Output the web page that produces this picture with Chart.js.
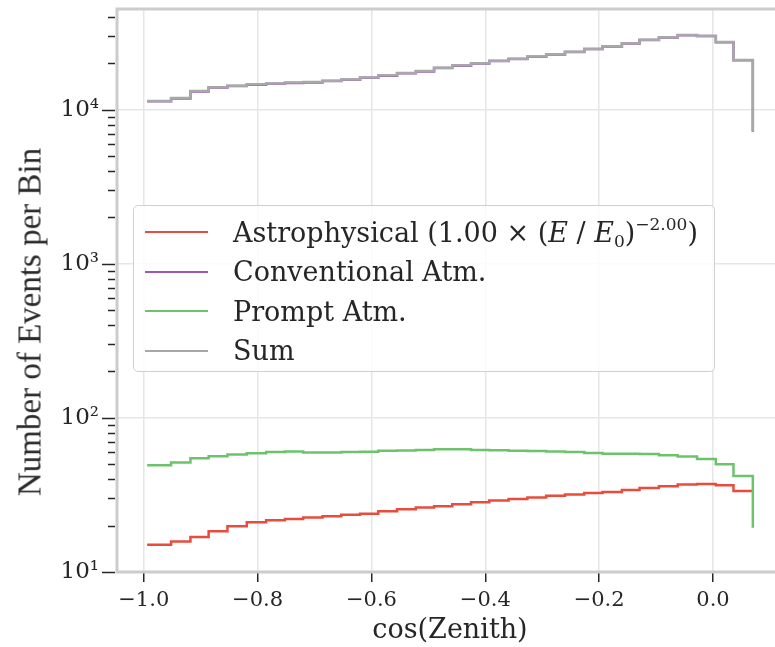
<!DOCTYPE html>
<html>
<head>
<meta charset="utf-8">
<script src="https://cdn.jsdelivr.net/npm/chart.js@4/dist/chart.umd.min.js"></script>
<style>
  html, body { margin: 0; padding: 0; background: #fff; overflow: hidden; }
  #wrap { position: relative; width: 800px; height: 647px; }
  #ytitle {
    position: absolute; left: 30px; top: 322px;
    transform: translate(-50%, -50%) rotate(-90deg);
    font-family: "Liberation Serif", serif; font-size: 33px; color: #2a2a2a;
    white-space: nowrap;
  }
  #legend {
    position: absolute; left: 133px; top: 205px; width: 582px; height: 167px;
    background: rgba(255, 255, 255, 0.82); border: 1.5px solid #cfcfcf;
    border-radius: 5px; box-sizing: border-box;
    font-family: "DejaVu Serif", serif; font-size: 27px; color: #262626;
  }
  #legend .row { position: absolute; left: 0; height: 40px; display: flex; align-items: center; white-space: nowrap; }
  #legend .swatch { display: inline-block; width: 63px; height: 2px; margin-left: 11px; margin-right: 25px; }
  #legend sub { font-size: 17px; vertical-align: -5px; }
  #legend sup { font-size: 17px; vertical-align: 12px; }
</style>
</head>
<body>
<div id="wrap">
  <canvas id="zenith-chart"></canvas>
  <div id="ytitle">Number of Events per Bin</div>
  <div id="legend"></div>
</div>
<script>
  'use strict';

  // bin edges in cos(zenith), last entry closes the final bin
  const binEdges = [-0.994, -0.952, -0.918, -0.886, -0.853, -0.819, -0.785, -0.752,
    -0.720, -0.686, -0.653, -0.620, -0.588, -0.555, -0.522, -0.490, -0.458, -0.425,
    -0.393, -0.359, -0.326, -0.293, -0.260, -0.226, -0.194, -0.160, -0.129, -0.095,
    -0.062, -0.028, 0.005, 0.036, 0.070];

  const astroCounts = [15.0, 15.8, 16.9, 18.4, 19.8, 21.0, 21.7, 22.1, 22.6, 23.0,
    23.5, 23.9, 24.8, 25.5, 26.2, 26.7, 27.5, 28.4, 29.1, 29.8, 30.4, 31.2, 31.8,
    32.5, 33.1, 34.1, 35.1, 36.0, 36.9, 37.2, 36.5, 33.6, 33.6];

  const convCounts = [11340, 11830, 13130, 13925, 14220, 14520, 14720, 14920, 15020,
    15320, 15620, 16115, 16615, 17215, 17710, 18610, 19310, 19910, 20710, 21310,
    22010, 22810, 23710, 24710, 25710, 26910, 28310, 29405, 30405, 30010, 27410,
    20925, 7200];

  const promptCounts = [49.3, 51.3, 54.7, 56.4, 57.8, 59.0, 60.1, 60.5, 59.6, 59.6,
    60.0, 60.3, 61.1, 61.5, 62.0, 62.7, 62.7, 62.0, 61.6, 61.3, 61.0, 60.5, 60.1,
    59.2, 58.6, 58.6, 58.4, 57.3, 56.1, 54.2, 50.0, 42.0, 19.4];

  const sumCounts = [11400, 11900, 13200, 14000, 14300, 14600, 14800, 15000, 15100,
    15400, 15700, 16200, 16700, 17300, 17800, 18700, 19400, 20000, 20800, 21400,
    22100, 22900, 23800, 24800, 25800, 27000, 28400, 29500, 30500, 30100, 27500,
    21000, 7250];

  const seriesLabels = ['Astrophysical (1.00 × (E/E0)^−2.00)', 'Conventional Atm.',
    'Prompt Atm.', 'Sum'];
  const legendHtml = [
    'Astrophysical (1.00 × (<i>E</i> / <i>E</i><sub>0</sub>)<sup>−2.00</sup>)',
    'Conventional Atm.', 'Prompt Atm.', 'Sum'];
  const seriesColors = ['#e74c3c', '#9b59b6', '#6cc36c', '#a8a8a8'];

  const xTickValues = [-1.0, -0.8, -0.6, -0.4, -0.2, 0.0];
  const yMajorTicks = [10, 100, 1000, 10000];
  const supDigits = {'1': '¹', '2': '²', '3': '³', '4': '⁴'};

  let yTickValues = [];
  yMajorTicks.forEach((m) => {
    for (let k = 1; k <= 9; k++) {
      if (m * k <= 45000) {
        yTickValues.push(m * k);
      }
    }
  });

  function isMajor(v) {
    return yMajorTicks.indexOf(v) !== -1;
  }

  function toPoints(values) {
    return values.map((v, i) => ({x: binEdges[i], y: v}));
  }

  let seriesData = [astroCounts, convCounts, promptCounts, sumCounts];
  let drawOrder = [3, 2, 1, 0];

  // light frame around the plot plus short/long ticks on the log axis
  let framePlugin = {
    id: 'frame',
    afterDraw(chart) {
      let ctx = chart.ctx;
      let a = chart.chartArea;
      let y = chart.scales.y;
      ctx.save();
      ctx.strokeStyle = '#cccccc';
      ctx.lineWidth = 3;
      ctx.strokeRect(a.left, a.top, a.right - a.left, a.bottom - a.top);
      ctx.strokeStyle = '#262626';
      ctx.lineWidth = 1.5;
      y.ticks.forEach((t) => {
        let py = Math.round(y.getPixelForValue(t.value)) + 0.5;
        let len = isMajor(t.value) ? 13 : 7;
        ctx.beginPath();
        ctx.moveTo(a.left - 2 - len, py);
        ctx.lineTo(a.left - 2, py);
        ctx.stroke();
      });
      ctx.restore();
    },
  };

  let config = {
    type: 'line',
    data: {
      datasets: seriesData.map((values, i) => ({
        label: seriesLabels[i],
        data: toPoints(values),
        borderColor: seriesColors[i],
        borderWidth: 2.5,
        pointRadius: 0,
        stepped: true,
        fill: false,
        order: drawOrder[i],
      })),
    },
    options: {
      responsive: true,
      maintainAspectRatio: false,
      animation: false,
      layout: {padding: {top: 9, right: 17, left: 0, bottom: 0}},
      plugins: {
        legend: {display: false},
        tooltip: {enabled: false},
      },
      scales: {
        x: {
          type: 'linear',
          min: -1.047,
          max: 0.123,
          afterBuildTicks: (axis) => {
            axis.ticks = xTickValues.map((v) => ({value: v}));
          },
          afterFit: (axis) => {
            axis.height = 75;
            axis.paddingLeft = 0;
            axis.paddingRight = 0;
          },
          border: {display: false},
          grid: {
            color: '#e6e6e6',
            lineWidth: 1.5,
            tickColor: '#262626',
            tickWidth: 1.5,
            tickLength: 10,
          },
          ticks: {
            color: '#262626',
            padding: 6,
            maxRotation: 0,
            font: {family: 'DejaVu Serif', size: 21},
            callback: (v) => (v < 0 ? '−' : '') + Math.abs(v).toFixed(1),
          },
          title: {
            display: true,
            text: 'cos(Zenith)',
            color: '#262626',
            padding: {top: 0, bottom: 0},
            font: {family: 'DejaVu Serif', size: 27},
          },
        },
        y: {
          type: 'logarithmic',
          min: 10,
          max: 45000,
          afterBuildTicks: (axis) => {
            axis.ticks = yTickValues.map((v) => ({value: v}));
          },
          afterFit: (axis) => {
            axis.width = 117;
            axis.paddingTop = 0;
            axis.paddingBottom = 0;
          },
          border: {display: false},
          grid: {
            color: (c) => (c.tick && isMajor(c.tick.value) ? '#e6e6e6' : 'rgba(0,0,0,0)'),
            lineWidth: 1.5,
            drawTicks: false,
          },
          ticks: {
            color: '#262626',
            padding: 18,
            autoSkip: false,
            font: {family: 'DejaVu Serif', size: 23},
            callback: (v) => {
              if (!isMajor(v)) {
                return '';
              }
              let exp = String(Math.round(Math.log10(v)));
              return '10' + supDigits[exp];
            },
          },
        },
      },
    },
    plugins: [framePlugin],
  };

  let chart = new Chart(document.getElementById('zenith-chart'), config);

  // legend rows built from the chart's own datasets
  let legendBox = document.getElementById('legend');
  chart.data.datasets.forEach((ds, i) => {
    let row = document.createElement('div');
    row.className = 'row';
    row.style.top = (6 + i * 39.5) + 'px';
    row.innerHTML = '<span class="swatch" style="background:' + ds.borderColor +
      '"></span><span>' + legendHtml[i] + '</span>';
    legendBox.appendChild(row);
  });
</script>
</body>
</html>
